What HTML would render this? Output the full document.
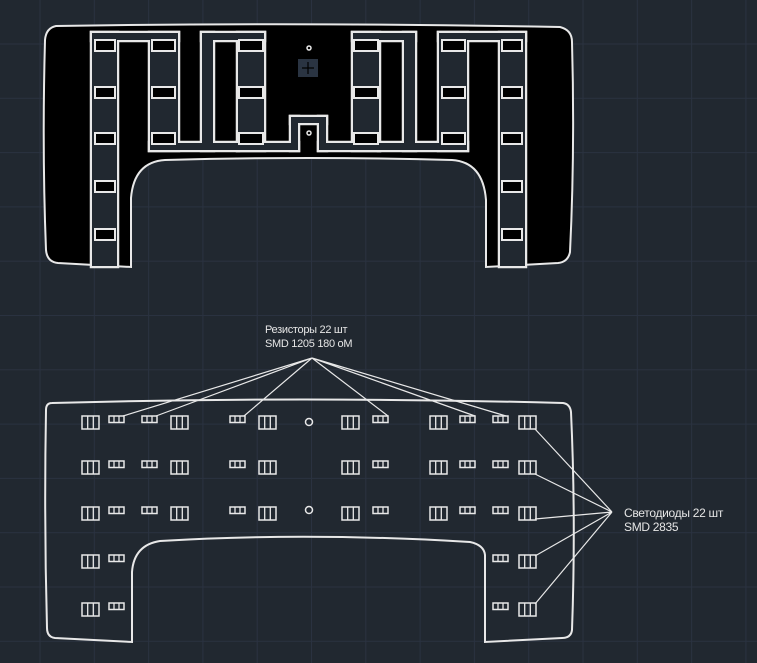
<!DOCTYPE html>
<html><head><meta charset="utf-8"><style>
html,body{margin:0;padding:0;background:#212830;}
svg{display:block}
text{font-family:"Liberation Sans","Noto Sans CJK SC",sans-serif;font-size:11px;fill:#e6e6e6;letter-spacing:-0.3px}
</style></head><body>
<svg width="757" height="663" viewBox="0 0 757 663" xmlns="http://www.w3.org/2000/svg">
<defs>
<pattern id="g" x="39.5" y="43.5" width="54.3" height="54.3" patternUnits="userSpaceOnUse">
<path d="M0.5 0V54.3M0 0.5H54.3" stroke="#2a3240" stroke-width="1" fill="none"/>
</pattern>
<g id="led"><rect x="0" y="0" width="17" height="13" fill="none" stroke="#e8e8e8" stroke-width="1.5"/><path d="M5.7 0V13M11.3 0V13" stroke="#e8e8e8" stroke-width="1.3"/></g>
<g id="res"><rect x="0" y="0" width="15" height="6.5" fill="none" stroke="#e8e8e8" stroke-width="1.5"/><path d="M5 0V6.5M10 0V6.5" stroke="#e8e8e8" stroke-width="1.3"/></g>
</defs>
<rect width="757" height="663" fill="#212830"/>
<rect width="757" height="663" fill="url(#g)"/>

<path d="M56 26 Q300 22 560 27 Q572 30 572 42 Q575 150 570 252 Q568 262 558 263 L486 267 L486 200 Q483 162 452 160 Q308 156 165 160 Q134 162 131 198 L131 267 L58 263 Q47 262 46 250 Q42 150 45 40 Q46 28 56 26 Z" fill="#000" stroke="#e8e8e8" stroke-width="2"/>
<g id="ch">
<rect x="92" y="33" width="25" height="233"/>
<rect x="92" y="33" width="86" height="7"/>
<rect x="150" y="33" width="28" height="117"/>
<rect x="150" y="143" width="88" height="7"/>
<rect x="202" y="33" width="11" height="117"/>
<rect x="202" y="33" width="62" height="7"/>
<rect x="238" y="33" width="26" height="117"/>
<rect x="238" y="143" width="60" height="7"/>
<rect x="291" y="117" width="35" height="6"/>
<rect x="291" y="117" width="7" height="33"/>
<rect x="319" y="117" width="7" height="33"/>
<rect x="500" y="33" width="25" height="233"/>
<rect x="439" y="33" width="86" height="7"/>
<rect x="439" y="33" width="28" height="117"/>
<rect x="379" y="143" width="88" height="7"/>
<rect x="404" y="33" width="11" height="117"/>
<rect x="353" y="33" width="62" height="7"/>
<rect x="353" y="33" width="26" height="117"/>
<rect x="319" y="143" width="60" height="7"/>
</g>
<use href="#ch" fill="none" stroke="#e8e8e8" stroke-width="4.5"/>
<use href="#ch" fill="#212830" stroke="none"/>
<g fill="#000" stroke="#e8e8e8" stroke-width="2">
<rect x="95" y="40" width="20" height="11"/><rect x="95" y="87" width="20" height="11"/><rect x="95" y="133" width="20" height="11"/><rect x="95" y="181" width="20" height="11"/><rect x="95" y="229" width="20" height="11"/>
<rect x="152" y="40" width="23" height="11"/><rect x="152" y="87" width="23" height="11"/><rect x="152" y="133" width="23" height="11"/>
<rect x="239" y="40" width="24" height="11"/><rect x="239" y="87" width="24" height="11"/><rect x="239" y="133" width="24" height="11"/>
<rect x="502" y="40" width="20" height="11"/><rect x="502" y="87" width="20" height="11"/><rect x="502" y="133" width="20" height="11"/><rect x="502" y="181" width="20" height="11"/><rect x="502" y="229" width="20" height="11"/>
<rect x="442" y="40" width="23" height="11"/><rect x="442" y="87" width="23" height="11"/><rect x="442" y="133" width="23" height="11"/>
<rect x="354" y="40" width="24" height="11"/><rect x="354" y="87" width="24" height="11"/><rect x="354" y="133" width="24" height="11"/>
</g>
<rect x="298" y="59" width="20" height="18" fill="#2a3442"/>
<path d="M308 62V74M302 68H314" stroke="#000" stroke-width="1.2"/>
<circle cx="309" cy="48" r="2" fill="none" stroke="#e8e8e8" stroke-width="1.5"/>
<circle cx="309" cy="133" r="2" fill="none" stroke="#e8e8e8" stroke-width="1.5"/>

<path d="M52 403 Q300 396 563 403 Q570 404 571 412 Q576 520 572 630 Q571 638 562 638 L485 642 L485 555 Q484 545 470 542 Q308 532 160 541 Q134 545 132 572 L132 642 L55 638 Q47 637 47 628 Q44 520 46 410 Q46 403 52 403 Z" fill="none" stroke="#e8e8e8" stroke-width="2"/>
<circle cx="309" cy="422" r="3.5" fill="none" stroke="#e8e8e8" stroke-width="1.5"/>
<circle cx="309" cy="510" r="3.5" fill="none" stroke="#e8e8e8" stroke-width="1.5"/>
<g>
<use href="#led" x="82" y="416"/><use href="#res" x="109" y="416"/><use href="#res" x="142" y="416"/><use href="#led" x="171" y="416"/><use href="#res" x="230" y="416"/><use href="#led" x="259" y="416"/>
<use href="#led" x="342" y="416"/><use href="#res" x="373" y="416"/><use href="#led" x="430" y="416"/><use href="#res" x="460" y="416"/><use href="#res" x="493" y="416"/><use href="#led" x="519" y="416"/>
<use href="#led" x="82" y="461"/><use href="#res" x="109" y="461"/><use href="#res" x="142" y="461"/><use href="#led" x="171" y="461"/><use href="#res" x="230" y="461"/><use href="#led" x="259" y="461"/>
<use href="#led" x="342" y="461"/><use href="#res" x="373" y="461"/><use href="#led" x="430" y="461"/><use href="#res" x="460" y="461"/><use href="#res" x="493" y="461"/><use href="#led" x="519" y="461"/>
<use href="#led" x="82" y="507"/><use href="#res" x="109" y="507"/><use href="#res" x="142" y="507"/><use href="#led" x="171" y="507"/><use href="#res" x="230" y="507"/><use href="#led" x="259" y="507"/>
<use href="#led" x="342" y="507"/><use href="#res" x="373" y="507"/><use href="#led" x="430" y="507"/><use href="#res" x="460" y="507"/><use href="#res" x="493" y="507"/><use href="#led" x="519" y="507"/>
<use href="#led" x="82" y="555"/><use href="#res" x="109" y="555"/><use href="#res" x="493" y="555"/><use href="#led" x="519" y="555"/>
<use href="#led" x="82" y="603"/><use href="#res" x="109" y="603"/><use href="#res" x="493" y="603"/><use href="#led" x="519" y="603"/>
</g>
<g stroke="#e8e8e8" stroke-width="1.2" fill="none">
<path d="M312 358L123 416M312 358L156 416M312 358L244 416M312 358L388 416M312 358L475 416M312 358L506 416"/>
<path d="M612 512L535 429M612 512L535 474M612 512L535 519M612 512L535 556M612 512L535 604"/>
</g>
<text x="265" y="333">Резисторы 22 шт</text>
<text x="265" y="347">SMD 1205 180 оМ</text>
<text x="624" y="517" style="font-size:12px">Светодиоды 22 шт</text>
<text x="624" y="531" style="font-size:12px">SMD 2835</text>
</svg>
</body></html>
